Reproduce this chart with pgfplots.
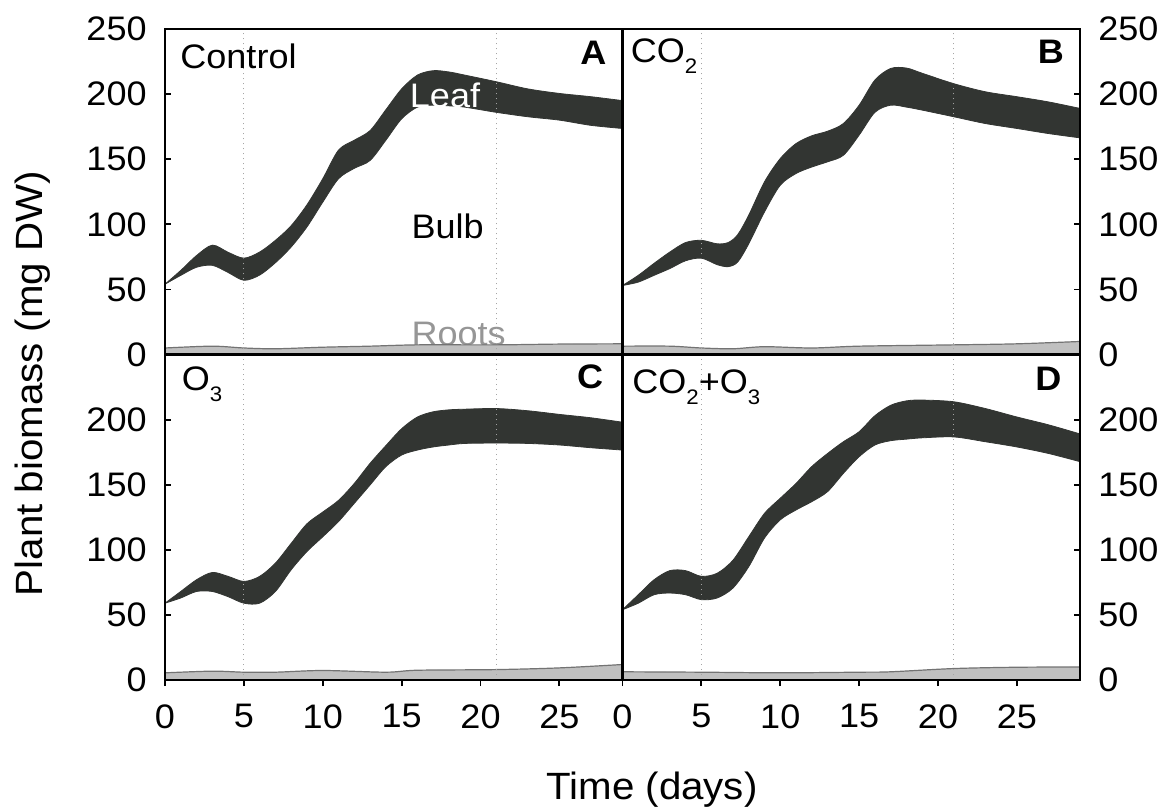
\documentclass[border=0pt]{standalone}
\usepackage{fontspec}
\setmainfont{Liberation Sans}[FakeStretch=1.06]
\usepackage{pgfplots}
\usepackage{pgfplotstable}
\pgfplotsset{compat=1.18}
\usepgfplotslibrary{fillbetween}

\definecolor{bandc}{RGB}{50,53,50}
\definecolor{rootf}{RGB}{192,192,192}
\definecolor{rootl}{RGB}{115,115,115}
\definecolor{roott}{RGB}{150,150,150}
\definecolor{dotc}{RGB}{165,165,165}

% Panel A: Control
\pgfplotstableread{
x up lo
0 54 54
1 64.6 60.8
2 76 67
3 84 68.5
4 78.5 63
5 74 57
6 78.7 61
7 87.7 70.5
8 99 82.6
9 115 98
10 135 117
11 157 135
12 164.6 143
13 172 149
14 188 164.6
15 204 181
16 214.6 190
17 218 191.5
18 217 191
19 214.6 190
21 209.5 186
23 204 182.6
25 200.5 180
27 198 176
29 195 173.6
}\tabA
\pgfplotstableread{
x r
0 5
3 6.4
5 5
7 4.4
10 5.6
13 6.4
16 7.4
21 7.4
25 8
29 8.2
}\rootA
% Panel B: CO2
\pgfplotstableread{
x up lo
0 53 53
1 60.8 55.6
2 70 60.8
3 78.7 66
4 86 72
5 87.7 74
6 85 69
6.7 86 67.5
7.3 92 71
8 107 85
9 132.6 109.5
10 150.5 130
11 162 139
12 168 144
13 171.5 148
14 177.4 153
15 191.5 168.5
16 210.8 186
17 219.7 191.5
18 220 190
19 216 187.7
21 208 182.6
23 201.8 177.4
25 198 173.6
27 194 169.7
29 189 166.4
}\tabB
\pgfplotstableread{
x r
0 6.4
3 6.4
5 5
7 4.4
9 6
12 5
15 6.4
21 7.4
25 8.2
29 10
}\rootB
% Panel C: O3
\pgfplotstableread{
x up lo
0 59 59
1 68 63
2 77 68
3 82.6 68
4 79.6 64
5 75.7 59
6 79.6 59
7 89.8 68
8 105 84.7
9 120 98.7
10 129 110
11 138 121.7
12 151 135.7
13 166.4 149.8
14 180 163.9
15 193 172.8
16 202 176.6
17 206 179
18 207.5 180.5
19 208 181.7
21 208.5 182
23 206.8 181.7
25 204 180.5
27 201.4 178.4
29 198 176.6
}\tabC
\pgfplotstableread{
x r
0 5.5
3 6.8
5 6
7 6
10 7.3
14 6
16 7.5
21 8
25 9.3
29 11.9
}\rootC
% Panel D: CO2+O3
\pgfplotstableread{
x up lo
0 54 54
1 65.5 59
2 77 65.5
3 84 66.8
4 84 65.5
5 79.6 61.7
6 82 63
7 92 70.6
8 110 87
9 128 109
10 139.6 123
11 151 130.6
12 164 137
13 174 144.7
14 183 158.7
15 190.7 171.5
16 203 180.5
17 211 183.8
18 214.4 185
19 215 186
21 213.7 186.7
23 208.5 183
25 202 179
27 196 174
29 189 167.7
}\tabD
\pgfplotstableread{
x r
0 6.3
5 6
10 5.5
15 6
17 6.3
21 8.8
25 9.8
29 10
}\rootD

\newcommand{\txtfont}{\fontsize{17}{20}\selectfont}
\newcommand{\sub}[1]{\raisebox{-5.5pt}{\fontsize{10.5}{11}\selectfont #1}}

\pgfplotsset{
  panel/.style={
    width=228.75pt, height=162.75pt, scale only axis,
    xmin=0, xmax=29, ymin=0, ymax=250,
    anchor=south west,
    axis on top,
    axis line style={line width=1.1pt},
    every tick/.style={line width=0.9pt, black},
    major tick length=3pt,
    /pgf/number format/assume math mode=true,
    tick label style={font=\txtfont},
  },
}

% draws the contents of one panel from its tables
\newcommand{\panel}[2]{%
  \addplot[fill=rootf, draw=rootl, line width=0.6pt, smooth] table[x=x,y=r]{#2} \closedcycle;
  \addplot[dotc, line width=0.6pt, dash pattern=on 0.7pt off 1.8pt] coordinates {(5,0) (5,250)};
  \addplot[dotc, line width=0.6pt, dash pattern=on 0.7pt off 1.8pt] coordinates {(21,0) (21,250)};
  \addplot[name path=U, bandc, line width=0.4pt, smooth] table[x=x,y=up]{#1};
  \addplot[name path=L, bandc, line width=0.4pt, smooth] table[x=x,y=lo]{#1};
  \addplot[fill=bandc, draw=none] fill between[of=U and L];
}

\begin{document}
\begin{tikzpicture}[every node/.append style={inner sep=0pt}]

% A
\begin{axis}[panel, at={(0pt,162.75pt)},
  xtick=\empty, ytick={0,50,...,250}, ytick pos=left, tick align=inside,
  yticklabel style={inner sep=0pt, xshift=-9pt}]
\node[anchor=base west, font=\txtfont, text=roott] at (axis cs:15.6,6.9) {Roots};
\panel{\tabA}{\rootA}
\node[anchor=base west, font=\txtfont] at (axis cs:0.95,220) {Control};
\node[anchor=base east, font=\txtfont\bfseries] at (axis cs:28.0,223) {A};
\node[anchor=base west, font=\txtfont, white] at (axis cs:15.5,190) {Leaf};
\node[anchor=base west, font=\txtfont] at (axis cs:15.6,89) {Bulb};
\end{axis}

% B
\begin{axis}[panel, at={(228.75pt,162.75pt)},
  xtick=\empty, ytick={0,50,...,250}, ytick pos=right, yticklabel pos=right, tick align=inside,
  yticklabel style={inner sep=0pt, xshift=9pt}]
\panel{\tabB}{\rootB}
\node[anchor=base west, font=\txtfont] at (axis cs:0.5,224.4) {CO\sub{2}};
\node[anchor=base east, font=\txtfont\bfseries] at (axis cs:28.0,223.6) {B};
\end{axis}

% C
\begin{axis}[panel, at={(0pt,0pt)},
  xtick={0,5,...,25}, ytick={0,50,...,200}, xtick pos=bottom, ytick pos=left, tick align=outside,
  y tick style={xshift=3pt},
  yticklabel style={inner sep=0pt, xshift=-6pt},
  xticklabel style={inner sep=0pt, yshift=-9pt}]
\panel{\tabC}{\rootC}
\node[anchor=base west, font=\txtfont] at (axis cs:1.05,222.6) {O\sub{3}};
\node[anchor=base east, font=\txtfont\bfseries] at (axis cs:27.8,224) {C};
\end{axis}

% D
\begin{axis}[panel, at={(228.75pt,0pt)},
  xtick={0,5,...,25}, ytick={0,50,...,200}, xtick pos=bottom, ytick pos=right, yticklabel pos=right, tick align=outside,
  y tick style={xshift=-3pt},
  yticklabel style={inner sep=0pt, xshift=6pt},
  xticklabel style={inner sep=0pt, yshift=-9pt}]
\panel{\tabD}{\rootD}
\node[anchor=base west, font=\txtfont] at (axis cs:0.6,220) {CO\sub{2}+O\sub{3}};
\node[anchor=base east, font=\txtfont\bfseries] at (axis cs:27.85,222) {D};
\end{axis}

\node[rotate=90, anchor=base, font=\fontsize{19}{22}\selectfont] at (-61pt,148.25pt) {Plant biomass (mg DW)};
\node[anchor=base, font=\fontsize{19}{22}\selectfont] at (243.5pt,-59.75pt) {Time (days)};

\pgfresetboundingbox
\path[use as bounding box] (-82.5pt,-64.75pt) rectangle (498.5pt,340pt);
\end{tikzpicture}
\end{document}
